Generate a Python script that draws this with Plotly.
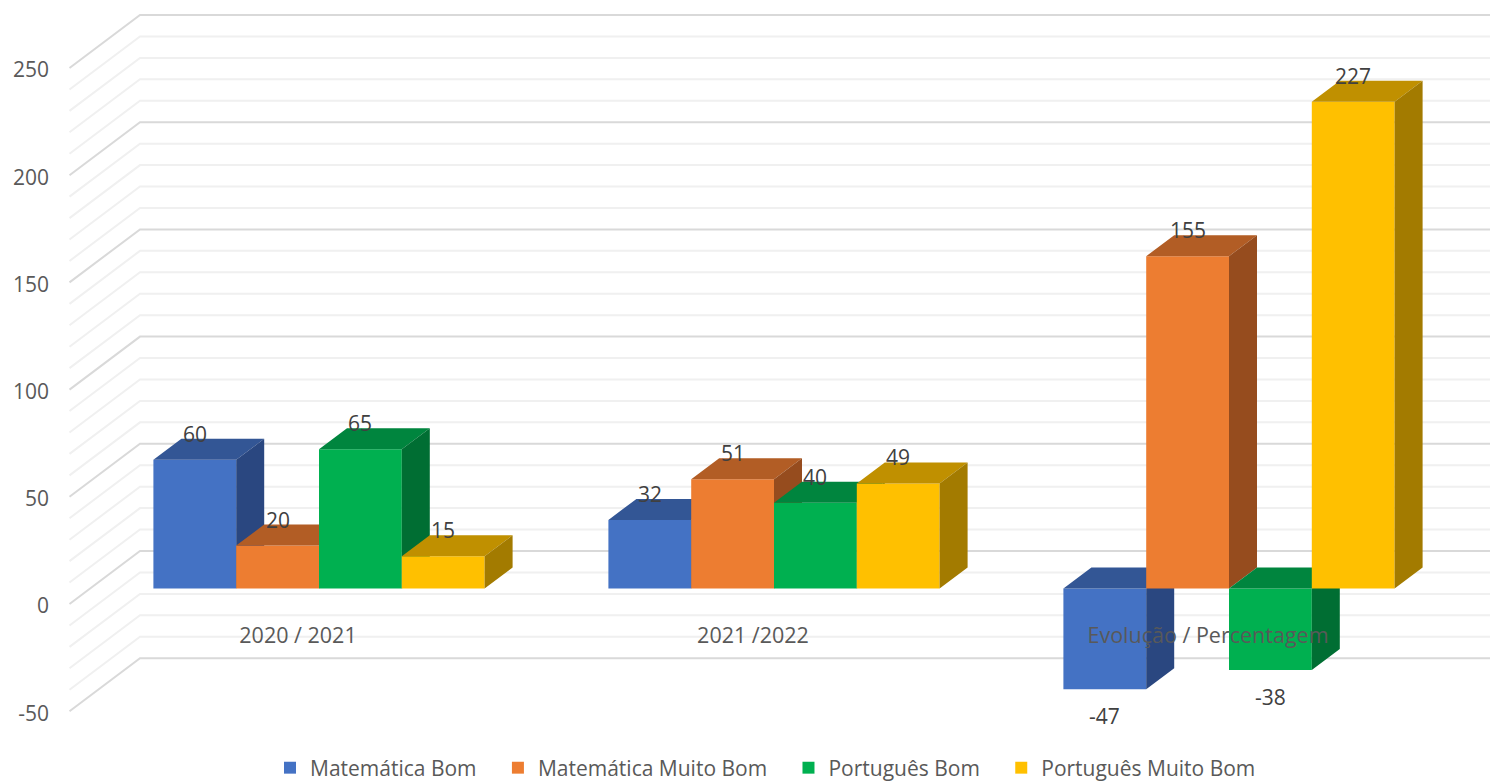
import plotly.graph_objects as go

categories = ["2020 / 2021", "2021 /2022", "Evolução / Percentagem"]
series_names = ["Matemática Bom", "Matemática Muito Bom", "Português Bom", "Português Muito Bom"]
mat_bom = [60, 32, -47]
mat_muito_bom = [20, 51, 155]
port_bom = [65, 40, -38]
port_muito_bom = [15, 49, 227]
series_values = [mat_bom, mat_muito_bom, port_bom, port_muito_bom]

front_colors = ["#4472C4", "#ED7D31", "#00B050", "#FFC000"]
top_colors = ["#335695", "#B25D25", "#00853E", "#C09000"]
side_colors = ["#2A4780", "#964C1E", "#006E33", "#A37B00"]

major_ticks = [-50, 0, 50, 100, 150, 200, 250]
minor_ticks = [v for v in range(-50, 251, 10) if v % 50 != 0]

# pixel geometry of the 3d look, all in page pixels
W, H = 1490, 781
LEFT = 58
GROUP_PX = 455         # px between categories
Y_PX = 2.144           # px per unit
FIRST_GROUP = 319      # px of first category centre
BASE_PX = 588.5        # px of zero for the bars
FRONT_PX = 604         # px of zero on the front of the walls
BAR_W = 82.8 / GROUP_PX
DX = 28 / GROUP_PX
DY = 21 / Y_PX
WALL_X0 = (69.5 - FIRST_GROUP) / GROUP_PX
WALL_X1 = (140 - FIRST_GROUP) / GROUP_PX
WALL_DY = 53 / Y_PX
x_range = [(LEFT - FIRST_GROUP) / GROUP_PX, (W - FIRST_GROUP) / GROUP_PX]
wall_range = [(FRONT_PX - H) / Y_PX, FRONT_PX / Y_PX]
bar_range = [(BASE_PX - H) / Y_PX, BASE_PX / Y_PX]

fig = go.Figure()


def wall_line(vals, color):
    xs, ys = [], []
    for v in vals:
        xs += [WALL_X0, WALL_X1, x_range[1], None]
        ys += [v, v + WALL_DY, v + WALL_DY, None]
    fig.add_trace(go.Scatter(x=xs, y=ys, mode="lines", line=dict(color=color, width=2),
                             showlegend=False, hoverinfo="skip"))


wall_line(minor_ticks, "#F0F0F0")
wall_line(major_ticks, "#D9D9D9")

annotations = []
for s, vals in enumerate(series_values):
    xa, ya = "x%d" % (s + 2), "y%d" % (s + 2)
    lefts = [g + (s - 2) * BAR_W for g in range(len(categories))]
    centres = [l + BAR_W / 2 for l in lefts]
    # trailing spaces only widen the gap between legend entries
    fig.add_trace(go.Bar(x=centres, y=vals, width=BAR_W, name=series_names[s] + "\u00a0\u00a0\u00a0",
                         marker=dict(color=front_colors[s], line=dict(width=0)),
                         xaxis=xa, yaxis=ya))
    top_x, top_y, side_x, side_y = [], [], [], []
    for l, v in zip(lefts, vals):
        r = l + BAR_W
        hi, lo = max(v, 0), min(v, 0)
        top_x += [l, l + DX, r + DX, r, l, None]
        top_y += [hi, hi + DY, hi + DY, hi, hi, None]
        side_x += [r, r + DX, r + DX, r, r, None]
        side_y += [hi, hi + DY, lo + DY, lo, hi, None]
    for px, py, col in [(top_x, top_y, top_colors[s]), (side_x, side_y, side_colors[s])]:
        fig.add_trace(go.Scatter(x=px, y=py, mode="lines", fill="toself", fillcolor=col,
                                 line=dict(width=0, color=col), showlegend=False,
                                 hoverinfo="skip", xaxis=xa, yaxis=ya))
    for c, v in zip(centres, vals):
        annotations.append(dict(x=c, y=v, xref="x5", yref="y5", text=str(v), showarrow=False,
                                yshift=26 if v > 0 else -27,
                                font=dict(family="Open Sans", size=21, color="#404040")))

tick_font = dict(family="Open Sans", size=21, color="#595959")
layout = dict(
    width=W, height=H, autosize=False,
    margin=dict(l=LEFT, r=0, t=0, b=0, autoexpand=False),
    paper_bgcolor="white", plot_bgcolor="white",
    barmode="overlay",
    showlegend=True,
    legend=dict(orientation="h", x=(270 - LEFT) / (W - LEFT), xanchor="left",
                y=(H - 768) / H, yanchor="middle",
                font=tick_font, bgcolor="rgba(0,0,0,0)"),
    annotations=annotations,
    xaxis=dict(range=x_range, visible=False),
    yaxis=dict(range=wall_range, tickvals=major_ticks, ticktext=[str(v) for v in major_ticks],
               showgrid=False, zeroline=False, showline=False, tickfont=tick_font,
               ticks="", ticklabelstandoff=8, ticklabelshift=2),
)
for i in range(2, 6):
    layout["xaxis%d" % i] = dict(range=x_range, overlaying="x", anchor="y%d" % i, visible=False)
    layout["yaxis%d" % i] = dict(range=bar_range, overlaying="y", anchor="x%d" % i, visible=False)
# category labels sit on top of the last bars
layout["xaxis5"] = dict(range=x_range, overlaying="x", anchor="free", position=(H - 620) / H,
                        showgrid=False, zeroline=False, showline=False, ticks="",
                        tickvals=[g - 21 / GROUP_PX for g in range(len(categories))],
                        ticktext=categories, tickfont=dict(tick_font, size=21.5), side="bottom")
fig.update_layout(**layout)

fig.write_html("out.html", default_width="%dpx" % W, default_height="%dpx" % H,
               config={"displayModeBar": False},
               post_script="document.body.style.margin = '0';")
